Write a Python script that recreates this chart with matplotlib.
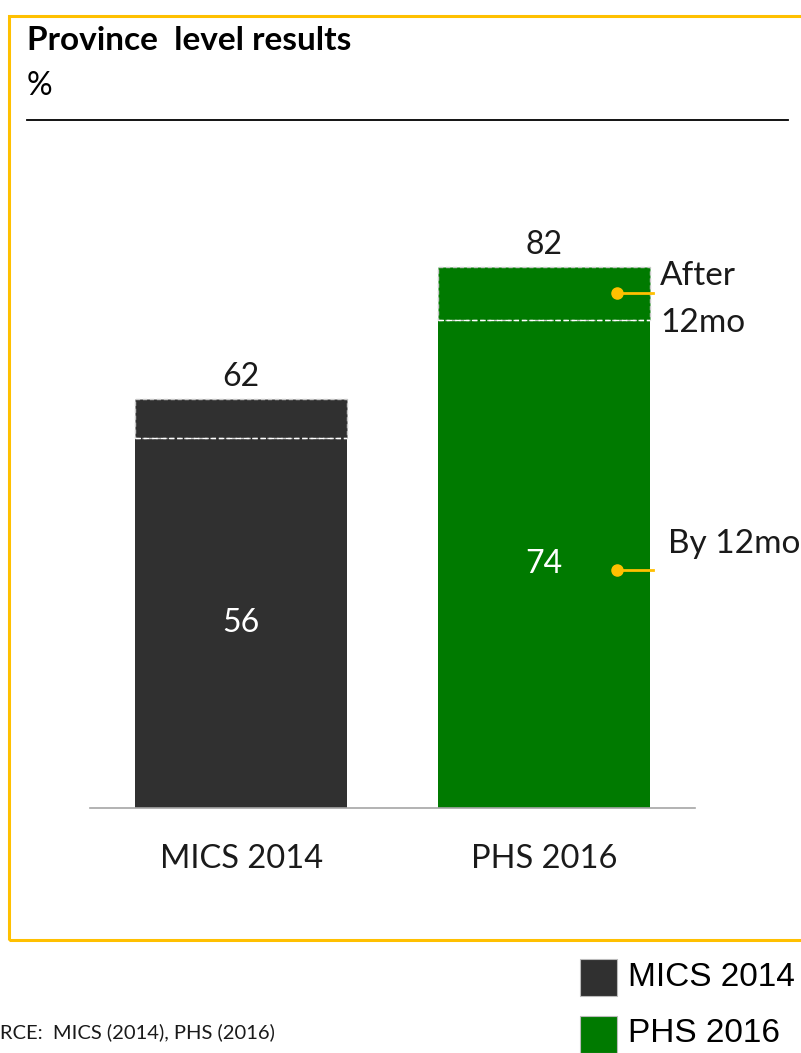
import matplotlib
matplotlib.use("Agg")
import matplotlib.pyplot as plt
from matplotlib.patches import Rectangle
from matplotlib.lines import Line2D

# ---- data ----
categories = ["MICS 2014", "PHS 2016"]
by_12mo = [56, 74]
total = [62, 82]
colors = ["#303030", "#007A00"]
source_text = "SOURCE:  MICS (2014), PHS (2016)"

W, H = 801, 1053
fig = plt.figure(figsize=(W / 100, H / 100), dpi=100)
FONT = "Lato"

def fx(px):
    return px / W

def fy(py):
    return 1 - py / H

# axes: x pixels 90..695, baseline at y=808, 6.6 px per unit
ax = fig.add_axes([fx(90), fy(808), fx(695) - fx(90), 660 / H])
ax.set_xlim(-0.5, 1.5)
ax.set_ylim(0, 100)
for s in ["top", "right", "left"]:
    ax.spines[s].set_visible(False)
ax.spines["bottom"].set_color("#a6a6a6")
ax.spines["bottom"].set_linewidth(1.2)
ax.set_yticks([])
ax.set_xticks(range(len(categories)))
ax.set_xticklabels(categories, fontsize=23.5, family=FONT, color="#1a1a1a")
ax.tick_params(axis="x", length=0, pad=26)

bw = 0.70
for i, (b, t, c) in enumerate(zip(by_12mo, total, colors)):
    after = t - b
    ax.bar(i, b, width=bw, color=c, edgecolor="none", zorder=2)
    ax.bar(i, after, bottom=b, width=bw, color=c, edgecolor="#c8c8c8",
           linestyle=(0, (3, 2)), linewidth=1.0, zorder=2)
    ax.plot([i - bw / 2, i + bw / 2], [b, b], color="white",
            linestyle=(0, (4, 2)), linewidth=1.0, zorder=3)
    ax.text(i, t + 1.0, f"{t}", ha="center", va="bottom", fontsize=23,
            family=FONT, color="#1a1a1a")
    ax.text(i, b / 2, f"{b}", ha="center", va="center", fontsize=23,
            family=FONT, color="white")

# annotations on second bar
yellow = "#FFC000"
i = 1
ya = (by_12mo[i] + total[i]) / 2
ax.plot([1.243, 1.36], [ya, ya], color=yellow, lw=2, zorder=4, clip_on=False)
ax.plot([1.243], [ya], "o", color=yellow, ms=8, zorder=5, clip_on=False)
ax.text(1.385, ya - 1.0, "After\n12mo", ha="left", va="center", fontsize=24,
        family=FONT, color="#1a1a1a", linespacing=1.7)
yb = 36
ax.plot([1.243, 1.36], [yb, yb], color=yellow, lw=2, zorder=4, clip_on=False)
ax.plot([1.243], [yb], "o", color=yellow, ms=8, zorder=5, clip_on=False)
ax.text(1.41, 40, "By 12mo", ha="left", va="center", fontsize=24,
        family=FONT, color="#1a1a1a")

# frame
fig.patches.append(Rectangle((fx(9), fy(940)), fx(830) - fx(9), (940 - 16) / H,
                             transform=fig.transFigure, fill=False,
                             edgecolor=yellow, linewidth=2.2, zorder=0))
# title
fig.text(fx(27), fy(40), "Province  level results", ha="left", va="center",
         fontsize=24, fontweight="bold", family=FONT, color="black")
fig.text(fx(27), fy(86), "%", ha="left", va="center", fontsize=23,
         family=FONT, color="black")
fig.lines.append(Line2D([fx(27), fx(788)], [fy(120), fy(120)],
                        transform=fig.transFigure, color="black", lw=1.3))

# source (cut off at the left edge, as in the reference)
fig.text(fx(275), fy(1032), source_text, ha="right", va="center",
         fontsize=14.5, family=FONT, color="#1a1a1a")

# legend
leg_y = [977, 1034]
for cat, c, yc in zip(categories, colors, leg_y):
    fig.patches.append(Rectangle((fx(580), fy(yc + 19)), 37 / W, 37 / H,
                                 transform=fig.transFigure, facecolor=c,
                                 edgecolor="#bbbbbb", lw=0.8))
    fig.text(fx(628), fy(yc), cat, ha="left", va="center", fontsize=24,
             family="Liberation Sans", color="black")

fig.savefig("out.png", dpi=100)
